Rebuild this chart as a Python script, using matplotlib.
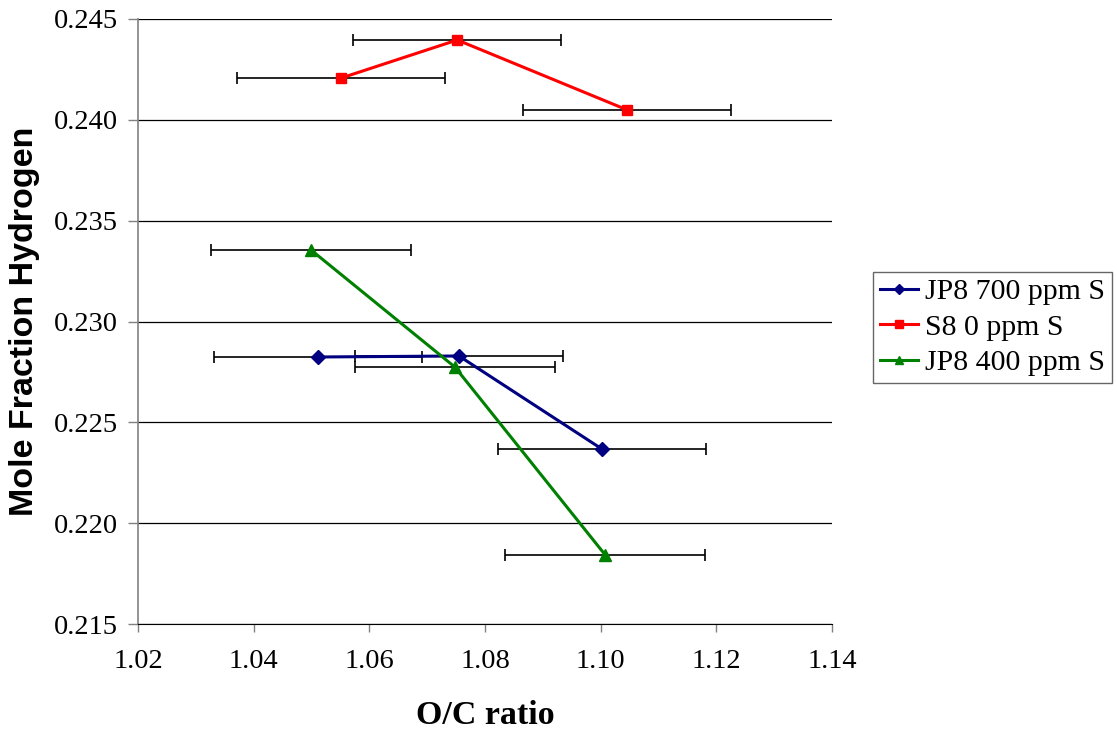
import matplotlib
matplotlib.use("Agg")
import matplotlib.pyplot as plt
import numpy as np

series_names = ["JP8 700 ppm S", "S8 0 ppm S", "JP8 400 ppm S"]
jp8_700_x = [1.0511, 1.0755, 1.1002]
jp8_700_y = [0.22824, 0.22829, 0.22368]
jp8_700_xerr = [0.018, 0.018, 0.018]
s8_x = [1.0551, 1.0752, 1.1046]
s8_y = [0.24207, 0.24396, 0.24049]
s8_xerr = [0.018, 0.018, 0.018]
jp8_400_x = [1.0499, 1.0748, 1.1008]
jp8_400_y = [0.23355, 0.22774, 0.21842]
jp8_400_xerr = [0.0173, 0.0173, 0.0173]
x_ticks = [1.02, 1.04, 1.06, 1.08, 1.10, 1.12, 1.14]
y_ticks = [0.215, 0.220, 0.225, 0.230, 0.235, 0.240, 0.245]

colors = ["#000080", "#FF0000", "#008000"]
markers = ["D", "s", "^"]

fig = plt.figure(figsize=(11.17, 7.32), dpi=100)
ax = fig.add_axes([138/1117, 1-624/732, (832-138)/1117, (624-19)/732])

data = [(jp8_700_x, jp8_700_y, jp8_700_xerr),
        (s8_x, s8_y, s8_xerr),
        (jp8_400_x, jp8_400_y, jp8_400_xerr)]
sizes = [7, 7, 8]
for (x, y, xe), c, m, name, ms in zip(data, colors, markers, series_names, sizes):
    ax.errorbar(x, y, xerr=xe, fmt='none', ecolor='black', elinewidth=1.2,
                capsize=4, capthick=1.2, zorder=2)
    ax.plot(x, y, color=c, marker=m, markersize=ms, linewidth=2.2, label=name, zorder=3)

ax.set_xlim(1.02, 1.14)
ax.set_ylim(0.215, 0.245)
ax.set_xticks(x_ticks)
ax.set_yticks(y_ticks)
ax.set_xticklabels([f"{v:.2f}" for v in x_ticks])
ax.set_yticklabels([f"{v:.3f}" for v in y_ticks])
for lab in ax.get_xticklabels() + ax.get_yticklabels():
    lab.set_fontfamily("Liberation Serif")
    lab.set_fontsize(20.5)

ax.yaxis.grid(True, color='black', linewidth=0.9)
ax.set_axisbelow(True)
for s in ["top", "right"]:
    ax.spines[s].set_visible(False)
ax.spines["left"].set_color("#808080")
ax.spines["left"].set_linewidth(1.2)
ax.spines["bottom"].set_color("black")
ax.tick_params(axis='y', direction='out', length=7.5, color='#808080', width=1, pad=7)
ax.tick_params(axis='x', direction='out', length=6, color='#808080', width=1, pad=12)

ax.set_xlabel("O/C ratio", fontfamily="Liberation Serif", fontweight="bold",
              fontsize=24.5, va='center')
ax.xaxis.set_label_coords(0.5, -(715-624)/605)
ax.set_ylabel("Mole Fraction Hydrogen", fontfamily="Liberation Sans", fontweight="bold",
              fontsize=24.5, va='center')
ax.yaxis.set_label_coords((25-138)/694, 0.5)

leg = ax.legend(loc="upper left", bbox_to_anchor=((873-138)/694, 1-(272-19)/605),
                prop={"family": "Liberation Serif", "size": 21.5}, frameon=True,
                fancybox=False, edgecolor="#404040", borderaxespad=0,
                handlelength=1.3, labelspacing=0.28, borderpad=0.22, handletextpad=0.22,
                markerscale=0.8)
leg.get_frame().set_linewidth(1.0)

fig.savefig("out.png", dpi=100)
